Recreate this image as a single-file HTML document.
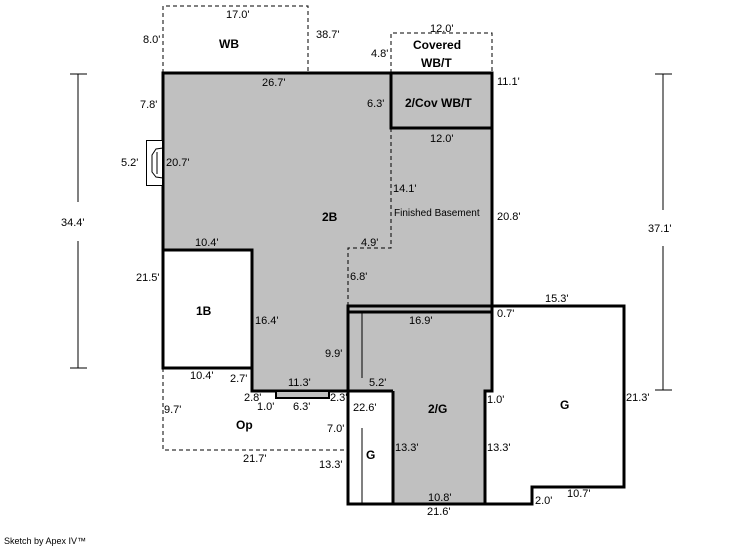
<!DOCTYPE html>
<html><head><style>body{margin:0;background:#fff}svg{display:block}text{font-family:"Liberation Sans",sans-serif;font-size:11px;fill:#000}.b{font-weight:bold;font-size:12px}</style></head><body>
<svg width="746" height="547" viewBox="0 0 746 547">
<!-- gray areas -->
<path d="M163,73 H492 V391 H485 V504 H393 V391 H348 V391 H252 V250 H163 Z" fill="#c0c0c0"/>
<rect x="348" y="306" width="144" height="85" fill="#c0c0c0"/>
<!-- dashed -->
<g fill="none" stroke="#000" stroke-width="1" stroke-dasharray="4,3">
<path d="M163,73 V6 H308 V73"/>
<path d="M391,73 V33 H492 V73"/>
<path d="M391,128 V248 H348 V306"/>
<path d="M163,368 V450 H348"/>
</g>
<!-- thick walls -->
<g fill="none" stroke="#000" stroke-width="3">
<path d="M163,73 H492 V391 H485 V504 H348 V391 H252 V368 H163 Z"/>
<path d="M163,250 H252 V368"/>
<rect x="391" y="73" width="101" height="55"/>
<path d="M348,391 V306 H624 V487 H532 V504 H485"/>
<path d="M348,312 H492"/>
<path d="M393,391 V504"/>
<path d="M348,391 H393"/>
</g>
<rect x="276" y="391" width="53" height="7" fill="#c0c0c0" stroke="#000" stroke-width="2"/>
<g stroke="#000" stroke-width="1" fill="none">
<line x1="362" y1="312" x2="362" y2="378"/>
<line x1="362" y1="428" x2="362" y2="504"/>
<rect x="146.5" y="140.5" width="16" height="45" fill="#fff"/>
<path d="M163,148 L156,149 L152,155 L152,172 L156,177 L163,178"/>
<line x1="157" y1="152" x2="157" y2="174"/>
<line x1="78" y1="74" x2="78" y2="202"/><line x1="78" y1="241" x2="78" y2="368"/>
<line x1="70" y1="74" x2="87" y2="74"/><line x1="70" y1="368" x2="87" y2="368"/>
<line x1="663" y1="74" x2="663" y2="210"/><line x1="663" y1="246" x2="663" y2="390"/>
<line x1="655" y1="74" x2="672" y2="74"/><line x1="655" y1="390" x2="672" y2="390"/>
</g>
<text class="b" x="219" y="48">WB</text>
<text class="b" x="413" y="49">Covered</text>
<text class="b" x="421" y="67">WB/T</text>
<text class="b" x="405" y="107">2/Cov WB/T</text>
<text class="b" x="322" y="221">2B</text>
<text class="b" x="196" y="315">1B</text>
<text class="b" x="236" y="429">Op</text>
<text class="b" x="428" y="413">2/G</text>
<text class="b" x="366" y="459">G</text>
<text class="b" x="560" y="409">G</text>
<text x="226" y="18">17.0'</text>
<text x="143" y="43">8.0'</text>
<text x="316" y="38">38.7'</text>
<text x="430" y="32">12.0'</text>
<text x="371" y="57">4.8'</text>
<text x="497" y="85">11.1'</text>
<text x="262" y="86">26.7'</text>
<text x="367" y="107">6.3'</text>
<text x="140" y="108">7.8'</text>
<text x="430" y="142">12.0'</text>
<text x="121" y="166">5.2'</text>
<text x="166" y="166">20.7'</text>
<text x="393" y="192">14.1'</text>
<text x="394" y="216" style="font-size:10px">Finished Basement</text>
<text x="497" y="220">20.8'</text>
<text x="61" y="226">34.4'</text>
<text x="648" y="232">37.1'</text>
<text x="195" y="246">10.4'</text>
<text x="361" y="246">4.9'</text>
<text x="350" y="280">6.8'</text>
<text x="136" y="281">21.5'</text>
<text x="545" y="302">15.3'</text>
<text x="409" y="324">16.9'</text>
<text x="497" y="317">0.7'</text>
<text x="255" y="324">16.4'</text>
<text x="325" y="357">9.9'</text>
<text x="190" y="379">10.4'</text>
<text x="230" y="382">2.7'</text>
<text x="369" y="386">5.2'</text>
<text x="288" y="386">11.3'</text>
<text x="244" y="401">2.8'</text>
<text x="257" y="410">1.0'</text>
<text x="293" y="410">6.3'</text>
<text x="330" y="401">2.3'</text>
<text x="353" y="411">22.6'</text>
<text x="487" y="403">1.0'</text>
<text x="626" y="401">21.3'</text>
<text x="164" y="413">9.7'</text>
<text x="327" y="432">7.0'</text>
<text x="395" y="451">13.3'</text>
<text x="487" y="451">13.3'</text>
<text x="243" y="462">21.7'</text>
<text x="319" y="468">13.3'</text>
<text x="428" y="501">10.8'</text>
<text x="567" y="497">10.7'</text>
<text x="535" y="504">2.0'</text>
<text x="427" y="515">21.6'</text>
<text x="4" y="544" style="font-size:9px">Sketch by Apex IV™</text>
</svg>
</body></html>
